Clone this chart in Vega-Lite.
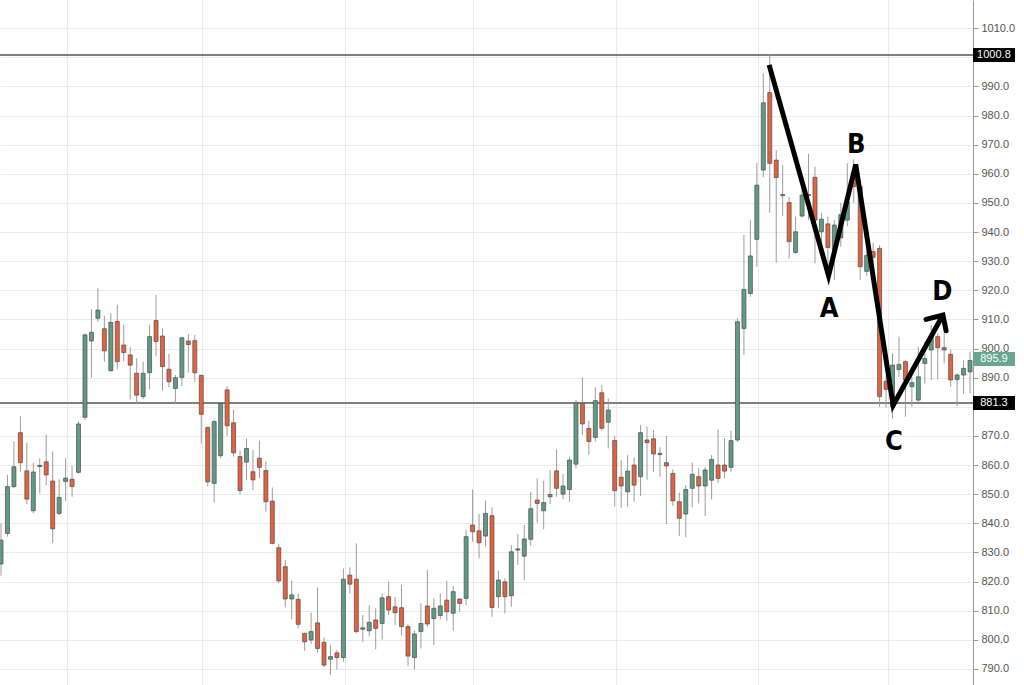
{
  "$schema": "https://vega.github.io/schema/vega-lite/v6.json",
  "width": 973,
  "height": 685,
  "autosize": {"type": "none"},
  "padding": {"left": 0, "top": 0, "right": 51, "bottom": 0},
  "background": "white",
  "config": {
    "view": {"stroke": null},
    "axisY": {
      "grid": true, "gridColor": "#ebebeb", "gridWidth": 1,
      "domainColor": "#9a9a9a", "tickColor": "#9a9a9a", "tickSize": 5,
      "labelPadding": 3, "labelColor": "#555555", "labelFont": "Liberation Sans",
      "labelFontSize": 11, "labelOverlap": false, "labelFlush": false
    },
    "axisX": {
      "grid": true, "gridColor": "#ebebeb", "labels": false, "ticks": false, "domain": false
    }
  },
  "datasets": {
    "candles": [
      {"i":0,"o":826,"h":840,"l":822,"c":834.2},
      {"i":1,"o":836.5,"h":856.6,"l":835.4,"c":852.6},
      {"i":2,"o":852.6,"h":868.2,"l":852,"c":859.4},
      {"i":3,"o":871.1,"h":876.8,"l":857.7,"c":860.8},
      {"i":4,"o":858,"h":867.7,"l":846.6,"c":848.3},
      {"i":5,"o":844.3,"h":860.8,"l":843.4,"c":857.6},
      {"i":6,"o":859.5,"h":862.3,"l":850.3,"c":859.9},
      {"i":7,"o":861.1,"h":870.5,"l":853.1,"c":856.6},
      {"i":8,"o":854.5,"h":864.6,"l":833.3,"c":838.1},
      {"i":9,"o":843.4,"h":855.1,"l":842.8,"c":848.9},
      {"i":10,"o":854.4,"h":862.3,"l":847.7,"c":855.5},
      {"i":11,"o":855.1,"h":859.7,"l":849.1,"c":852.6},
      {"i":12,"o":857.5,"h":874.9,"l":857.1,"c":874.1},
      {"i":13,"o":876.4,"h":905.2,"l":875.5,"c":904.7},
      {"i":14,"o":902.6,"h":913.5,"l":890.1,"c":905.6},
      {"i":15,"o":910.4,"h":920.7,"l":909.2,"c":913.2},
      {"i":16,"o":906.8,"h":911.2,"l":895.5,"c":899.2},
      {"i":17,"o":892.4,"h":912.1,"l":892.1,"c":909},
      {"i":18,"o":909.3,"h":915,"l":892.9,"c":895.5},
      {"i":19,"o":901.2,"h":908.1,"l":895.5,"c":898.6},
      {"i":20,"o":897.8,"h":900.6,"l":882.6,"c":894.3},
      {"i":21,"o":891.5,"h":896.6,"l":880.9,"c":884},
      {"i":22,"o":883.5,"h":895.5,"l":882.6,"c":891.5},
      {"i":23,"o":891.7,"h":908.1,"l":886,"c":904.1},
      {"i":24,"o":909.6,"h":918.4,"l":897.4,"c":902.4},
      {"i":25,"o":904.3,"h":906.9,"l":885.5,"c":893.8},
      {"i":26,"o":892.9,"h":898.1,"l":886.7,"c":888.6},
      {"i":27,"o":886.3,"h":890.9,"l":880.9,"c":890},
      {"i":28,"o":890.1,"h":904.1,"l":887.1,"c":903.7},
      {"i":29,"o":902.6,"h":905,"l":891.7,"c":901.4},
      {"i":30,"o":902.7,"h":904.7,"l":888.6,"c":891.7},
      {"i":31,"o":890.8,"h":890.9,"l":867.4,"c":877.4},
      {"i":32,"o":872.9,"h":873.2,"l":852.6,"c":854.2},
      {"i":33,"o":853.7,"h":875.5,"l":847.1,"c":874.9},
      {"i":34,"o":863.2,"h":881.4,"l":862.3,"c":881.2},
      {"i":35,"o":885.8,"h":887.1,"l":869.9,"c":873.5},
      {"i":36,"o":874.5,"h":879.1,"l":862.9,"c":864.2},
      {"i":37,"o":862.9,"h":864.9,"l":850,"c":851.2},
      {"i":38,"o":861,"h":869.1,"l":854.9,"c":865.7},
      {"i":39,"o":857.7,"h":865.2,"l":851.4,"c":854.9},
      {"i":40,"o":862.3,"h":868.4,"l":855.4,"c":859.2},
      {"i":41,"o":858.1,"h":861.2,"l":844,"c":847.4},
      {"i":42,"o":847.6,"h":852.3,"l":832.8,"c":833.1},
      {"i":43,"o":831.6,"h":832.9,"l":819.4,"c":820.2},
      {"i":44,"o":825.1,"h":827.4,"l":811.1,"c":814},
      {"i":45,"o":814,"h":820.3,"l":807,"c":815.4},
      {"i":46,"o":813.9,"h":815.9,"l":803.9,"c":805.3},
      {"i":47,"o":802.2,"h":802.4,"l":796.2,"c":799.3},
      {"i":48,"o":799.9,"h":809.3,"l":798.5,"c":802.8},
      {"i":49,"o":805.8,"h":818,"l":795.5,"c":797},
      {"i":50,"o":799.1,"h":800.8,"l":790.5,"c":791.3},
      {"i":51,"o":793.3,"h":798.2,"l":787.9,"c":794.2},
      {"i":52,"o":795.5,"h":796.5,"l":789.8,"c":793.9},
      {"i":53,"o":793.9,"h":824.5,"l":792.4,"c":820.8},
      {"i":54,"o":822.2,"h":824.9,"l":815.9,"c":819.1},
      {"i":55,"o":820.8,"h":833.1,"l":802.2,"c":802.8},
      {"i":56,"o":804.1,"h":808.5,"l":799.3,"c":803.6},
      {"i":57,"o":803.1,"h":811.9,"l":801.1,"c":806},
      {"i":58,"o":806.8,"h":810.8,"l":796.7,"c":803.9},
      {"i":59,"o":805.6,"h":815.9,"l":800.1,"c":814.4},
      {"i":60,"o":814.8,"h":819.9,"l":808.5,"c":810.2},
      {"i":61,"o":811.3,"h":814.8,"l":805.1,"c":809.3},
      {"i":62,"o":811,"h":818.8,"l":801.6,"c":804.5},
      {"i":63,"o":804.5,"h":805.4,"l":791,"c":794.4},
      {"i":64,"o":793.9,"h":803.1,"l":789.8,"c":802},
      {"i":65,"o":802.8,"h":812.5,"l":797,"c":805.6},
      {"i":66,"o":811.6,"h":823.9,"l":804.5,"c":805.4},
      {"i":67,"o":807.3,"h":814.2,"l":798.2,"c":810.8},
      {"i":68,"o":808.3,"h":815.9,"l":807,"c":811.6},
      {"i":69,"o":813.6,"h":820.3,"l":806.5,"c":809.6},
      {"i":70,"o":809.1,"h":818.4,"l":803.1,"c":816.5},
      {"i":71,"o":814,"h":814.2,"l":809.6,"c":812.5},
      {"i":72,"o":814.2,"h":837.7,"l":811.9,"c":835.4},
      {"i":73,"o":839.4,"h":851.6,"l":833.7,"c":837.1},
      {"i":74,"o":837.4,"h":843.2,"l":827.9,"c":833.3},
      {"i":75,"o":835.6,"h":847.8,"l":832,"c":843.4},
      {"i":76,"o":842.6,"h":845.5,"l":807.9,"c":811.1},
      {"i":77,"o":814.8,"h":823.7,"l":810.8,"c":820.5},
      {"i":78,"o":819.9,"h":821.1,"l":809,"c":814.8},
      {"i":79,"o":815.1,"h":832.5,"l":811.3,"c":830.2},
      {"i":80,"o":830.8,"h":836.3,"l":825.7,"c":831.2},
      {"i":81,"o":828.7,"h":839.4,"l":820.5,"c":834.6},
      {"i":82,"o":834.5,"h":850.8,"l":832.2,"c":845},
      {"i":83,"o":848,"h":855.4,"l":840.2,"c":846.8},
      {"i":84,"o":844.3,"h":854.6,"l":837.9,"c":847.1},
      {"i":85,"o":849.1,"h":858.3,"l":846.6,"c":849.9},
      {"i":86,"o":858,"h":865.4,"l":849.1,"c":852},
      {"i":87,"o":850,"h":856.9,"l":848.2,"c":852.8},
      {"i":88,"o":851.6,"h":862.9,"l":847.4,"c":861.7},
      {"i":89,"o":860.3,"h":882.3,"l":858.9,"c":881.4},
      {"i":90,"o":881.2,"h":890.1,"l":870.3,"c":874.1},
      {"i":91,"o":872.6,"h":875.2,"l":863.5,"c":868.1},
      {"i":92,"o":869.5,"h":886.7,"l":868.1,"c":882.1},
      {"i":93,"o":884.8,"h":887.5,"l":871.8,"c":872.6},
      {"i":94,"o":874.7,"h":882.9,"l":865.7,"c":878.9},
      {"i":95,"o":868.4,"h":870,"l":845.7,"c":851.2},
      {"i":96,"o":855.8,"h":861.7,"l":845.3,"c":852.8},
      {"i":97,"o":850.8,"h":863.4,"l":845.7,"c":857.9},
      {"i":98,"o":860,"h":862.6,"l":847.4,"c":853.1},
      {"i":99,"o":856,"h":873.7,"l":849.4,"c":871.1},
      {"i":100,"o":868.6,"h":873.2,"l":854.9,"c":867.7},
      {"i":101,"o":869,"h":872,"l":857.7,"c":863.8},
      {"i":102,"o":864,"h":866.1,"l":856,"c":863.6},
      {"i":103,"o":860.8,"h":870,"l":839.7,"c":859.7},
      {"i":104,"o":857.1,"h":858.5,"l":845.9,"c":847.7},
      {"i":105,"o":847.4,"h":850.5,"l":835.6,"c":841.7},
      {"i":106,"o":843.2,"h":853.1,"l":835.2,"c":851.6},
      {"i":107,"o":852,"h":860.8,"l":845.5,"c":856.8},
      {"i":108,"o":856,"h":858.9,"l":846.8,"c":852.8},
      {"i":109,"o":852.8,"h":859.2,"l":842.5,"c":858.3},
      {"i":110,"o":854.8,"h":863.4,"l":848.2,"c":861.9},
      {"i":111,"o":860,"h":872.2,"l":853.9,"c":855.4},
      {"i":112,"o":860,"h":869.2,"l":855.4,"c":857.9},
      {"i":113,"o":859.2,"h":871.8,"l":857.7,"c":868.4},
      {"i":114,"o":868.6,"h":910.4,"l":868,"c":909.2},
      {"i":115,"o":906.9,"h":939,"l":897.8,"c":920.3},
      {"i":116,"o":918.9,"h":944.1,"l":917.8,"c":931.8},
      {"i":117,"o":937.5,"h":963.8,"l":928.1,"c":956.1},
      {"i":118,"o":961.3,"h":994.5,"l":958.8,"c":984.4},
      {"i":119,"o":987.9,"h":1000.8,"l":946.6,"c":963.6},
      {"i":120,"o":964.7,"h":968.2,"l":929.5,"c":958.7},
      {"i":121,"o":952.9,"h":963,"l":945.5,"c":952.5},
      {"i":122,"o":950.1,"h":952.1,"l":931,"c":936.7},
      {"i":123,"o":933,"h":945.3,"l":932.5,"c":940.1},
      {"i":124,"o":945.5,"h":956.7,"l":945,"c":952.7},
      {"i":125,"o":952.9,"h":966.8,"l":944.1,"c":952.5},
      {"i":126,"o":958.8,"h":962.4,"l":929.3,"c":944.1},
      {"i":127,"o":940.1,"h":946.6,"l":936.1,"c":944.4},
      {"i":128,"o":942.8,"h":945.3,"l":924.7,"c":934.7},
      {"i":129,"o":933.8,"h":944.1,"l":923.5,"c":942.4},
      {"i":130,"o":938,"h":950,"l":935,"c":946},
      {"i":131,"o":944.1,"h":963.6,"l":942,"c":950.4},
      {"i":132,"o":959,"h":965,"l":950,"c":955.6},
      {"i":133,"o":955.6,"h":958,"l":923.5,"c":928.1},
      {"i":134,"o":926.5,"h":934,"l":925,"c":932},
      {"i":135,"o":933.3,"h":936.3,"l":929,"c":931.3},
      {"i":136,"o":934.4,"h":935.5,"l":880,"c":883.5},
      {"i":137,"o":888.8,"h":890.3,"l":879.8,"c":886},
      {"i":138,"o":880,"h":898.3,"l":876,"c":894.3},
      {"i":139,"o":892.8,"h":904.1,"l":890.3,"c":894.5},
      {"i":140,"o":895.5,"h":896,"l":876.6,"c":889.2},
      {"i":141,"o":886.9,"h":890.3,"l":880,"c":888.3},
      {"i":142,"o":882.3,"h":900.6,"l":881.4,"c":890.3},
      {"i":143,"o":894.9,"h":902.3,"l":888,"c":896.6},
      {"i":144,"o":899.5,"h":908.1,"l":889.2,"c":904.1},
      {"i":145,"o":904.1,"h":905.2,"l":889.4,"c":900.3},
      {"i":146,"o":900.3,"h":906.9,"l":894.9,"c":899.5},
      {"i":147,"o":898,"h":899.5,"l":886.9,"c":889.2},
      {"i":148,"o":889.4,"h":891.5,"l":880.2,"c":890.9},
      {"i":149,"o":890.9,"h":896,"l":884.4,"c":893.2},
      {"i":150,"o":892,"h":898.9,"l":884.6,"c":895.9}
    ],
    "zig": [
      {"k":0,"i":118.9,"v":997.4},
      {"k":1,"i":128.1,"v":925.0},
      {"k":2,"i":132.3,"v":963.2},
      {"k":3,"i":138.1,"v":880.5},
      {"k":4,"i":145.8,"v":911.5}
    ],
    "arrow": [
      {"k":0,"i":143.2,"v":910.0},
      {"k":1,"i":145.8,"v":911.5},
      {"k":2,"i":146.3,"v":906.1}
    ],
    "letters": [
      {"t":"A","i":128.2,"v":910.9},
      {"t":"B","i":132.4,"v":967.2},
      {"t":"C","i":138.2,"v":865.0},
      {"t":"D","i":145.7,"v":916.7}
    ],
    "levels": [
      {"p":1000.8},
      {"p":881.3}
    ],
    "tags": [
      {"p":1000.8,"t":"1000.8"},
      {"p":881.3,"t":"881.3"},
      {"p":896.4,"t":"895.9"}
    ]
  },
  "layer": [
    {
      "data": {"name": "levels"},
      "mark": {"type": "rule", "color": "#555555", "strokeWidth": 1.4},
      "encoding": {
        "y": {
          "field": "p", "type": "quantitative",
          "scale": {"domain": [784.46, 1019.69], "nice": false, "zero": false, "padding": 0},
          "axis": {"orient": "right", "title": null, "format": ".1f",
            "values": [790,800,810,820,830,840,850,860,870,880,890,900,910,920,930,940,950,960,970,980,990,1000,1010,1020]}
        }
      }
    },
    {
      "data": {"name": "candles"},
      "mark": {"type": "rule", "color": "#9c9c9c", "strokeWidth": 1},
      "encoding": {
        "x": {
          "field": "i", "type": "quantitative",
          "scale": {"domain": [-0.155, 150.46], "nice": false, "zero": false, "padding": 0},
          "axis": {"orient": "bottom", "title": null, "values": [10.2, 31.1, 53.2, 73.1, 95.2, 117.2, 137.3]}
        },
        "y": {
          "field": "l", "type": "quantitative",
          "scale": {"domain": [784.46, 1019.69], "nice": false, "zero": false, "padding": 0},
          "axis": {"orient": "right", "title": null, "format": ".1f",
            "values": [790,800,810,820,830,840,850,860,870,880,890,900,910,920,930,940,950,960,970,980,990,1000,1010,1020]}
        },
        "y2": {"field": "h"}
      }
    },
    {
      "data": {"name": "candles"},
      "mark": {"type": "bar", "width": 4, "stroke": "#4a4a4a", "strokeWidth": 0.7},
      "encoding": {
        "x": {
          "field": "i", "type": "quantitative",
          "scale": {"domain": [-0.155, 150.46], "nice": false, "zero": false, "padding": 0},
          "axis": {"orient": "bottom", "title": null, "values": [10.2, 31.1, 53.2, 73.1, 95.2, 117.2, 137.3]}
        },
        "y": {
          "field": "o", "type": "quantitative",
          "scale": {"domain": [784.46, 1019.69], "nice": false, "zero": false, "padding": 0},
          "axis": {"orient": "right", "title": null, "format": ".1f",
            "values": [790,800,810,820,830,840,850,860,870,880,890,900,910,920,930,940,950,960,970,980,990,1000,1010,1020]}
        },
        "y2": {"field": "c"},
        "fill": {"condition": {"test": "datum.c >= datum.o", "value": "#5f9c85"}, "value": "#e4623f"}
      }
    },
    {
      "data": {"name": "zig"},
      "mark": {"type": "line", "color": "black", "strokeWidth": 5, "strokeJoin": "miter", "strokeCap": "butt"},
      "encoding": {
        "x": {"field": "i", "type": "quantitative", "axis": {"orient": "bottom", "title": null, "values": [10.2, 31.1, 53.2, 73.1, 95.2, 117.2, 137.3]}},
        "y": {"field": "v", "type": "quantitative", "axis": {"orient": "right", "title": null, "format": ".1f",
            "values": [790,800,810,820,830,840,850,860,870,880,890,900,910,920,930,940,950,960,970,980,990,1000,1010,1020]}},
        "order": {"field": "k"}
      }
    },
    {
      "data": {"name": "arrow"},
      "mark": {"type": "line", "color": "black", "strokeWidth": 5, "strokeJoin": "miter", "strokeCap": "round"},
      "encoding": {
        "x": {"field": "i", "type": "quantitative", "axis": {"orient": "bottom", "title": null, "values": [10.2, 31.1, 53.2, 73.1, 95.2, 117.2, 137.3]}},
        "y": {"field": "v", "type": "quantitative", "axis": {"orient": "right", "title": null, "format": ".1f",
            "values": [790,800,810,820,830,840,850,860,870,880,890,900,910,920,930,940,950,960,970,980,990,1000,1010,1020]}},
        "order": {"field": "k"}
      }
    },
    {
      "data": {"name": "letters"},
      "mark": {"type": "text", "font": "'DejaVu Sans Condensed', 'Roboto Condensed', Roboto, sans-serif", "fontWeight": "bold", "fontSize": 27, "color": "black", "align": "center", "baseline": "alphabetic"},
      "encoding": {
        "x": {"field": "i", "type": "quantitative", "axis": {"orient": "bottom", "title": null, "values": [10.2, 31.1, 53.2, 73.1, 95.2, 117.2, 137.3]}},
        "y": {"field": "v", "type": "quantitative", "axis": {"orient": "right", "title": null, "format": ".1f",
            "values": [790,800,810,820,830,840,850,860,870,880,890,900,910,920,930,940,950,960,970,980,990,1000,1010,1020]}},
        "text": {"field": "t"}
      }
    },
    {
      "data": {"name": "tags"},
      "mark": {"type": "bar", "orient": "horizontal", "size": 14, "clip": false},
      "encoding": {
        "x": {"datum": 150.46, "type": "quantitative", "axis": {"orient": "bottom", "title": null, "values": [10.2, 31.1, 53.2, 73.1, 95.2, 117.2, 137.3]}},
        "x2": {"datum": 156.96},
        "y": {"field": "p", "type": "quantitative", "axis": {"orient": "right", "title": null, "format": ".1f",
            "values": [790,800,810,820,830,840,850,860,870,880,890,900,910,920,930,940,950,960,970,980,990,1000,1010,1020]}},
        "fill": {"condition": {"test": "datum.t === '895.9'", "value": "#68a68f"}, "value": "#000000"}
      }
    },
    {
      "data": {"name": "tags"},
      "mark": {"type": "text", "color": "white", "font": "Liberation Sans", "fontSize": 11, "align": "center", "baseline": "middle", "clip": false},
      "encoding": {
        "x": {"datum": 153.7, "type": "quantitative", "axis": {"orient": "bottom", "title": null, "values": [10.2, 31.1, 53.2, 73.1, 95.2, 117.2, 137.3]}},
        "y": {"field": "p", "type": "quantitative", "axis": {"orient": "right", "title": null, "format": ".1f",
            "values": [790,800,810,820,830,840,850,860,870,880,890,900,910,920,930,940,950,960,970,980,990,1000,1010,1020]}},
        "text": {"field": "t"}
      }
    }
  ]
}
